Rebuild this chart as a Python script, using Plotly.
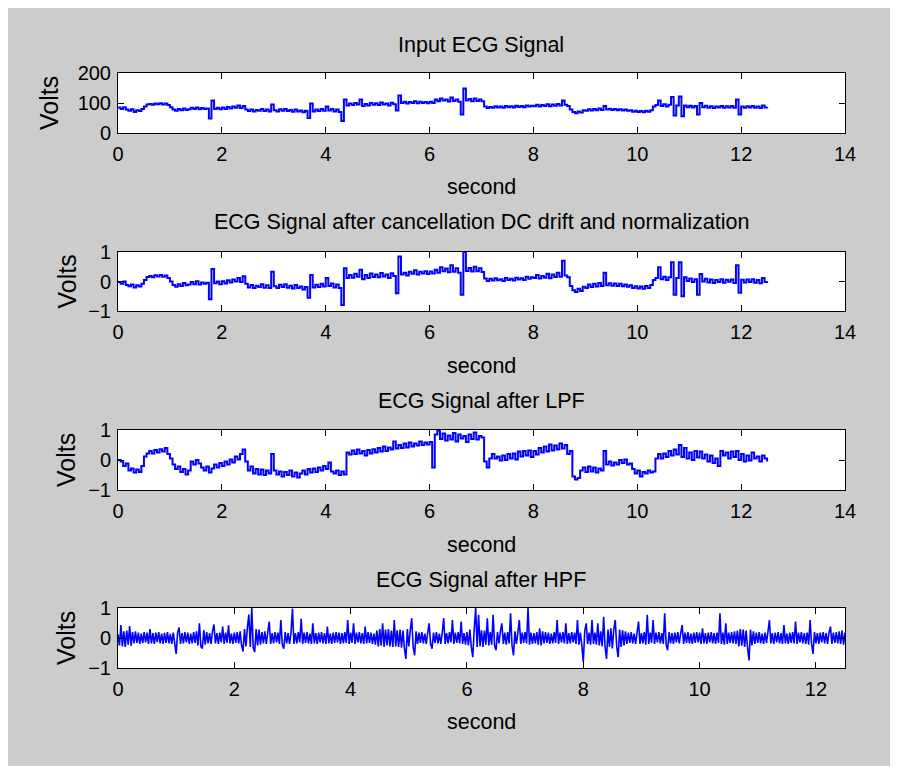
import numpy as np
import plotly.graph_objects as go

# ---------------- data ----------------
sample_step = 0.05        # seconds between samples of the first three signals
hpf_sample_step = 0.025   # seconds between samples of the high-pass signal

input_ecg = [
    85, 80, 86, 78, 74, 79, 70, 76, 73, 80, 88, 95, 97, 94, 98, 96, 99, 95, 98, 93,
    86, 78, 74, 80, 76, 82, 77, 79, 84, 80, 85, 79, 83, 80, 82, 48, 108, 80, 84, 79,
    85, 80, 87, 82, 88, 84, 92, 83, 90, 78, 73, 78, 72, 77, 74, 80, 73, 78, 72, 95,
    76, 72, 79, 74, 80, 73, 77, 71, 78, 72, 75, 69, 74, 50, 98, 72, 78, 73, 80, 74,
    88, 75, 80, 72, 78, 70, 40, 112, 92, 98, 93, 100, 95, 112, 90, 97, 92, 100, 94, 99,
    93, 102, 95, 98, 92, 101, 96, 75, 125, 100, 104, 98, 103, 100, 106, 99, 104, 100, 103, 99,
    104, 100, 112, 106, 115, 108, 112, 105, 118, 107, 112, 104, 62, 148, 108, 113, 106, 115, 107, 112,
    106, 88, 83, 87, 84, 89, 85, 88, 84, 90, 86, 89, 85, 91, 87, 90, 86, 92, 88, 91,
    89, 94, 88, 93, 90, 96, 89, 95, 91, 97, 92, 108, 94, 90, 78, 70, 66, 72, 68, 76,
    74, 79, 75, 80, 76, 82, 77, 90, 78, 81, 77, 80, 76, 79, 75, 78, 74, 76, 71, 74,
    70, 73, 69, 74, 71, 76, 88, 93, 108, 90, 96, 88, 94, 120, 58, 92, 122, 56, 92, 86,
    91, 85, 90, 62, 100, 86, 91, 84, 89, 83, 88, 85, 90, 84, 89, 85, 90, 84, 112, 62,
    88, 84, 89, 85, 90, 84, 88, 83, 92, 85, 87,
]

normalized_ecg = [
    -0.02, -0.08, 0.00, -0.12, -0.16, -0.10, -0.20, -0.13, -0.17, -0.08, 0.05, 0.15, 0.19, 0.14, 0.21, 0.17, 0.22, 0.16, 0.20, 0.12,
    0.00, -0.12, -0.18, -0.09, -0.15, -0.05, -0.13, -0.10, -0.02, -0.09, 0.01, -0.10, -0.03, -0.08, -0.04, -0.60, 0.42, -0.06, 0.00, -0.09,
    0.01, -0.07, 0.04, -0.03, 0.07, 0.00, 0.12, -0.02, 0.18, -0.08, -0.20, -0.12, -0.22, -0.14, -0.19, -0.09, -0.21, -0.13, -0.22, 0.33,
    -0.16, -0.22, -0.11, -0.19, -0.09, -0.21, -0.14, -0.24, -0.12, -0.22, -0.17, -0.27, -0.19, -0.55, 0.22, -0.20, -0.11, -0.19, -0.08, -0.17,
    0.12, -0.15, -0.07, -0.20, -0.10, -0.22, -0.80, 0.45, 0.12, 0.22, 0.13, 0.26, 0.16, 0.40, 0.08, 0.22, 0.12, 0.27, 0.15, 0.24,
    0.14, 0.29, 0.17, 0.24, 0.12, 0.28, 0.19, -0.40, 0.85, 0.24, 0.30, 0.20, 0.33, 0.26, 0.38, 0.24, 0.33, 0.27, 0.35, 0.25,
    0.34, 0.27, 0.40, 0.30, 0.48, 0.35, 0.44, 0.31, 0.55, 0.33, 0.45, 0.30, -0.45, 1.00, 0.36, 0.46, 0.34, 0.50, 0.35, 0.45,
    0.32, 0.10, 0.02, 0.09, 0.03, 0.11, 0.04, 0.08, 0.02, 0.12, 0.05, 0.09, 0.03, 0.13, 0.07, 0.11, 0.05, 0.16, 0.09, 0.14,
    0.12, 0.22, 0.10, 0.19, 0.13, 0.26, 0.11, 0.24, 0.15, 0.30, 0.16, 0.70, 0.20, 0.14, -0.15, -0.30, -0.36, -0.25, -0.32, -0.18,
    -0.22, -0.10, -0.19, -0.08, -0.17, -0.05, -0.15, 0.30, -0.13, -0.06, -0.14, -0.07, -0.15, -0.08, -0.16, -0.10, -0.18, -0.13, -0.22, -0.16,
    -0.24, -0.17, -0.25, -0.15, -0.22, -0.12, 0.05, 0.12, 0.48, 0.08, 0.16, 0.05, 0.14, 0.65, -0.45, 0.12, 0.65, -0.50, 0.14, 0.02,
    0.10, -0.02, 0.08, -0.45, 0.25, 0.00, 0.09, -0.03, 0.07, -0.05, 0.05, -0.02, 0.08, -0.04, 0.06, -0.01, 0.07, -0.05, 0.55, -0.38,
    0.06, -0.03, 0.07, -0.02, 0.08, -0.04, 0.05, -0.06, 0.12, -0.02, 0.01,
]

lpf_ecg = [
    0.00, -0.05, -0.20, -0.12, -0.35, -0.28, -0.42, -0.32, -0.40, -0.20, 0.12, 0.22, 0.30, 0.22, 0.33, 0.25, 0.36, 0.28, 0.40, 0.20,
    0.05, -0.15, -0.30, -0.22, -0.40, -0.30, -0.48, -0.35, -0.05, -0.15, 0.00, -0.12, -0.25, -0.35, -0.22, -0.42, -0.28, -0.15, -0.25, -0.10,
    -0.20, -0.05, -0.15, 0.02, -0.08, 0.12, 0.02, 0.20, 0.35, -0.05, -0.35, -0.22, -0.45, -0.30, -0.48, -0.32, -0.50, -0.35, -0.45, 0.20,
    -0.35, -0.48, -0.38, -0.55, -0.40, -0.50, -0.35, -0.55, -0.42, -0.58, -0.45, -0.35, -0.48, -0.30, -0.42, -0.28, -0.40, -0.25, -0.35, -0.20,
    -0.30, -0.08, -0.38, -0.45, -0.35, -0.50, -0.38, -0.48, 0.25, 0.18, 0.32, 0.20, 0.35, 0.22, 0.30, 0.15, 0.33, 0.22, 0.36, 0.25,
    0.40, 0.28, 0.45, 0.30, 0.42, 0.35, 0.62, 0.38, 0.50, 0.40, 0.55, 0.42, 0.58, 0.45, 0.55, 0.48, 0.62, 0.50, 0.58, 0.52,
    0.60, -0.25, 0.85, 0.98, 0.70, 0.88, 0.65, 0.82, 0.68, 0.90, 0.62, 0.85, 0.72, 0.80, 0.60, 0.85, 0.70, 0.92, 0.68, 0.80,
    0.75, -0.05, -0.25, 0.05, 0.20, 0.05, 0.12, -0.02, 0.15, 0.00, 0.20, 0.05, 0.22, 0.02, 0.28, 0.12, 0.30, 0.15, 0.32, 0.10,
    0.30, 0.18, 0.40, 0.25, 0.45, 0.28, 0.52, 0.32, 0.48, 0.35, 0.55, 0.38, 0.50, 0.20, 0.30, -0.55, -0.65, -0.60, -0.35, -0.25,
    -0.40, -0.22, -0.38, -0.25, -0.42, -0.28, -0.35, 0.30, -0.15, -0.05, -0.18, -0.08, -0.15, 0.00, -0.10, 0.02, -0.15, -0.12, -0.30, -0.45,
    -0.35, -0.55, -0.40, -0.45, -0.35, -0.42, -0.38, 0.05, 0.20, 0.05, 0.22, 0.10, 0.30, 0.15, 0.35, 0.18, 0.50, 0.10, 0.40, 0.05,
    0.25, 0.00, 0.30, 0.08, 0.28, 0.05, 0.18, -0.05, 0.15, -0.10, 0.05, -0.20, 0.30, 0.15, 0.25, 0.05, 0.28, 0.10, 0.30, 0.00,
    0.20, -0.05, 0.15, -0.02, 0.25, 0.05, 0.12, -0.05, 0.15, 0.05, -0.05,
]

hpf_ecg = [
    # 0 s
    0.12, -0.25, 0.43, -0.28, 0.22, -0.30, 0.25, -0.22, 0.40, -0.26,
    0.20, -0.18, 0.22, -0.16, 0.18, -0.20, 0.15, -0.17, 0.20, -0.15,
    0.18, -0.20, 0.30, -0.18, 0.16, -0.20, 0.18, -0.14, 0.20, -0.18,
    0.15, -0.20, 0.17, -0.16, 0.20, -0.18, 0.14, -0.20, 0.18, -0.15,
    # 1 s
    -0.53, 0.18, 0.35, -0.20, 0.16, -0.18, 0.20, -0.15, 0.18, -0.20,
    0.15, -0.18, 0.20, -0.16, 0.22, -0.25, 0.49, -0.28, -0.35, 0.26,
    -0.22, 0.20, -0.18, 0.16, -0.20, 0.22, 0.45, -0.18, 0.16, -0.20,
    0.18, -0.15, 0.38, -0.20, 0.18, -0.16, 0.42, -0.18, 0.15, -0.20,
    # 2 s
    0.18, -0.16, 0.20, -0.18, 0.22, -0.25, -0.45, 0.30, -0.28, 0.35,
    0.78, -0.30, 1.00, -0.32, -0.47, 0.30, -0.25, 0.28, -0.22, 0.20,
    -0.18, 0.22, -0.20, 0.18, 0.55, -0.20, 0.16, -0.18, 0.20, -0.15,
    0.18, -0.20, 0.60, -0.22, -0.36, 0.20, -0.18, 0.16, -0.20, 0.18,
    # 3 s
    0.98, -0.20, 0.16, -0.18, 0.20, -0.15, 0.64, -0.20, 0.18, -0.16,
    0.20, -0.18, 0.15, -0.20, 0.49, -0.18, 0.16, -0.20, 0.18, -0.15,
    0.20, -0.18, 0.16, -0.20, 0.38, -0.18, 0.15, -0.20, 0.18, -0.16,
    0.20, -0.15, 0.18, -0.20, 0.16, -0.18, 0.20, -0.16, 0.60, -0.20,
    # 4 s
    0.18, -0.16, 0.49, -0.20, 0.18, -0.15, 0.20, -0.18, 0.16, -0.20,
    0.38, -0.18, 0.20, -0.16, 0.18, -0.20, 0.15, -0.22, 0.25, -0.28,
    0.30, -0.26, 0.49, -0.30, 0.28, -0.25, 0.30, -0.28, 0.25, -0.30,
    0.60, -0.28, 0.26, -0.30, 0.28, -0.32, 0.25, -0.35, -0.70, 0.30,
    # 5 s
    -0.28, 0.25, 0.66, -0.30, -0.58, 0.22, -0.20, 0.18, -0.16, 0.20,
    -0.18, 0.15, -0.20, 0.18, 0.49, -0.20, -0.36, 0.18, -0.16, 0.20,
    -0.18, 0.15, -0.20, 0.18, 0.66, -0.20, 0.16, -0.18, 0.20, -0.15,
    0.60, -0.20, 0.18, -0.16, 0.20, -0.18, 0.55, -0.20, 0.16, -0.22,
    # 6 s
    0.20, -0.25, 0.28, -0.30, -0.64, 0.30, 1.00, -0.30, 0.77, -0.28,
    0.26, -0.30, 0.25, -0.22, 0.66, -0.25, 0.20, -0.22, 0.77, -0.25,
    -0.41, 0.20, -0.18, 0.22, 0.49, -0.20, 0.18, -0.22, 0.20, -0.18,
    0.82, -0.25, -0.58, 0.22, -0.20, 0.18, 0.60, -0.20, 0.18, -0.16,
    # 7 s
    0.20, -0.18, 1.00, -0.22, 0.18, -0.20, 0.16, -0.18, 0.20, -0.22,
    0.32, -0.25, 0.22, -0.18, 0.20, -0.16, 0.18, -0.20, 0.15, -0.18,
    0.20, -0.16, 0.60, -0.20, 0.18, -0.15, 0.20, -0.18, 0.49, -0.20,
    0.16, -0.18, 0.20, -0.15, 0.18, -0.20, 0.60, -0.22, 0.18, -0.25,
    # 8 s
    -0.80, 0.22, 0.49, -0.20, 0.18, -0.22, 0.60, -0.20, 0.18, -0.22,
    0.49, -0.25, 0.22, -0.28, 0.71, -0.30, -0.70, 0.28, -0.30, 0.32,
    -0.35, 0.30, 0.60, -0.30, -0.64, 0.28, -0.30, 0.26, -0.25, 0.22,
    -0.20, 0.18, -0.16, 0.20, -0.18, 0.15, -0.20, 0.18, 0.55, -0.20,
    # 9 s
    0.16, -0.18, 0.20, -0.22, 0.77, -0.20, 0.18, -0.16, 0.60, -0.20,
    0.18, -0.15, 0.20, -0.18, 0.16, -0.20, 0.82, -0.22, -0.41, 0.20,
    -0.18, 0.16, -0.20, 0.18, -0.15, 0.20, -0.18, 0.16, 0.43, -0.20,
    0.18, -0.16, 0.20, -0.18, 0.15, -0.20, 0.18, -0.16, 0.20, -0.15,
    # 10 s
    0.18, -0.20, 0.32, -0.18, 0.16, -0.20, 0.18, -0.15, 0.20, -0.18,
    0.16, -0.20, 0.18, -0.16, 0.82, -0.20, 0.18, -0.22, 0.49, -0.20,
    0.18, -0.16, 0.20, -0.18, 0.22, -0.20, 0.25, -0.28, 0.30, -0.26,
    0.28, -0.30, 0.25, -0.32, -0.75, 0.28, -0.25, 0.22, -0.20, 0.18,
    # 11 s
    -0.16, 0.20, -0.18, 0.15, -0.20, 0.18, -0.16, 0.20, 0.60, -0.18,
    0.16, -0.20, 0.18, -0.15, 0.20, -0.18, 0.16, -0.20, 0.43, -0.18,
    0.15, -0.20, 0.18, -0.16, 0.20, -0.18, 0.55, -0.20, 0.18, -0.15,
    0.20, -0.18, 0.16, -0.20, 0.18, -0.22, 0.60, -0.20, -0.53, 0.20,
    # 12 s
    -0.18, 0.16, -0.20, 0.18, -0.15, 0.20, -0.18, 0.16, -0.20, 0.18,
    0.38, -0.20, 0.18, -0.16, 0.20, -0.18, 0.22, -0.20, 0.25, -0.22,
    0.18,
]

titles = ["Input ECG Signal",
          "ECG Signal after cancellation DC drift and normalization",
          "ECG Signal after LPF",
          "ECG Signal after HPF"]
series = [input_ecg, normalized_ecg, lpf_ecg, hpf_ecg]
steps = [sample_step, sample_step, sample_step, hpf_sample_step]
x_ranges = [[0, 14], [0, 14], [0, 14], [0, 12.5]]
x_ticks = [list(range(0, 15, 2))] * 3 + [list(range(0, 13, 2))]
y_ranges = [[0, 200], [-1, 1], [-1, 1], [-1, 1]]
y_ticks = [[0, 100, 200], [-1, 0, 1], [-1, 0, 1], [-1, 0, 1]]
x_label = "second"
y_label = "Volts"

# ---------------- layout geometry (page pixels) ----------------
PAGE_W, PAGE_H = 898, 774
BODY = 8                      # browser default body margin -> figure starts at (8, 8)
W, H = PAGE_W - BODY, PAGE_H - 2 * BODY
plot_left, plot_right = 118, 845
plot_rows = [(73, 133), (252, 311), (430, 490), (608, 668)]
title_y = [45, 222, 401, 580]
xlabel_y = [187, 366, 545, 722]
ylabel_x = [49, 66, 66, 66]
line_shapes = ["hv", "hv", "hv", "linear"]
line_widths = [2, 2, 2, 1.6]

FONT = "Liberation Sans, Arial, sans-serif"
TICK_SIZE = 20
TITLE_SIZE = 21.5
VOLTS_SIZE = 25


def px(x):
    return (x - BODY) / W


def py(y):
    return 1 - (y - BODY) / H


fig = go.Figure()
annotations = []
for i, vals in enumerate(series):
    t = np.arange(len(vals)) * steps[i]
    n = "" if i == 0 else str(i + 1)
    fig.add_trace(go.Scatter(x=t, y=vals, mode="lines",
                             line=dict(color="#0000ff", width=line_widths[i], shape=line_shapes[i]),
                             xaxis="x" + n, yaxis="y" + n, showlegend=False,
                             hoverinfo="skip"))
    top, bot = plot_rows[i]
    common = dict(showline=True, linecolor="black", linewidth=1, mirror="ticks",
                  ticks="inside", ticklen=6, tickwidth=1, tickcolor="black",
                  showgrid=False, zeroline=False, automargin=False,
                  tickfont=dict(family=FONT, size=TICK_SIZE, color="black"))
    fig.update_layout(**{
        "xaxis" + n: dict(domain=[px(plot_left), px(plot_right)], anchor="y" + n,
                          range=x_ranges[i], tickvals=x_ticks[i], ticklabelstandoff=3, **common),
        "yaxis" + n: dict(domain=[py(bot), py(top)], anchor="x" + n,
                          range=y_ranges[i], tickvals=y_ticks[i], ticklabelstandoff=2, **common),
    })
    cx = px((plot_left + plot_right) / 2)
    annotations.append(dict(text=titles[i], x=cx, y=py(title_y[i]), xref="paper", yref="paper",
                            xanchor="center", yanchor="middle", showarrow=False,
                            font=dict(family=FONT, size=TITLE_SIZE, color="black")))
    annotations.append(dict(text=x_label, x=cx, y=py(xlabel_y[i]), xref="paper", yref="paper",
                            xanchor="center", yanchor="middle", showarrow=False,
                            font=dict(family=FONT, size=TITLE_SIZE, color="black")))
    annotations.append(dict(text=y_label, x=px(ylabel_x[i]), y=py((top + bot) / 2),
                            xref="paper", yref="paper", textangle=-90,
                            xanchor="center", yanchor="middle", showarrow=False,
                            font=dict(family=FONT, size=VOLTS_SIZE, color="black")))

fig.update_layout(width=W, height=H, margin=dict(l=0, r=0, t=0, b=0, pad=0),
                  paper_bgcolor="#cccccc", plot_bgcolor="white",
                  annotations=annotations, showlegend=False)

fig.write_html("out.html")
